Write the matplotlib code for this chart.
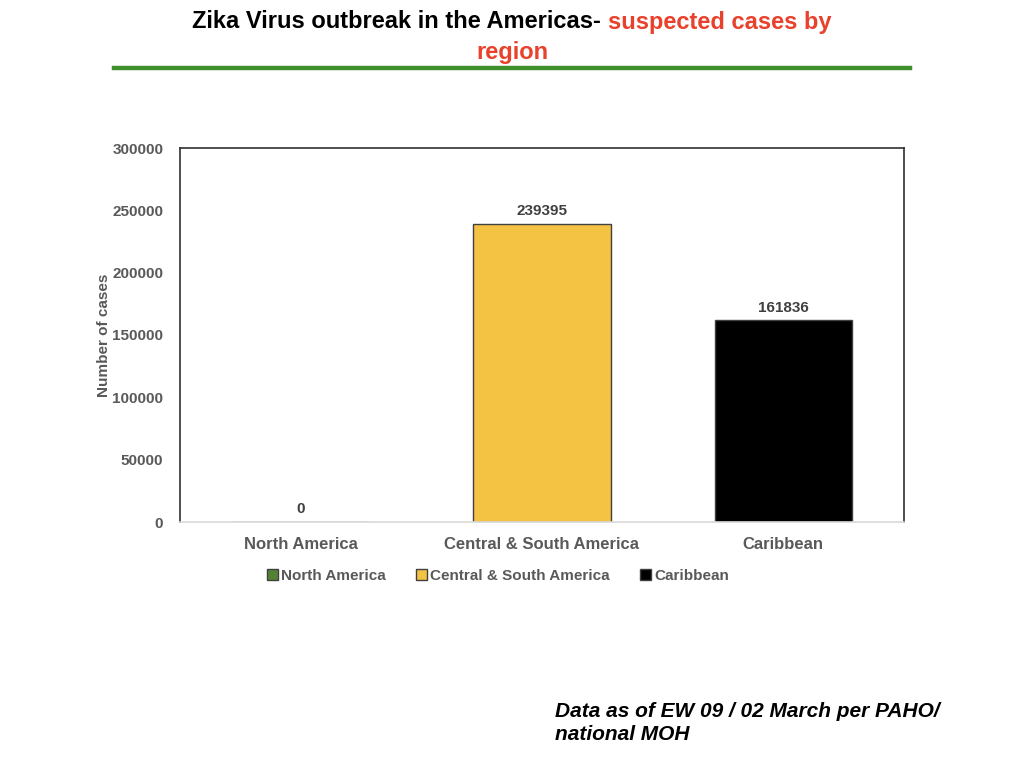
import matplotlib
matplotlib.use("Agg")
import matplotlib.pyplot as plt
from matplotlib.patches import Patch
import numpy as np

# data
regions = ["North America", "Central & South America", "Caribbean"]
cases = [0, 239395, 161836]
bar_colors = ["#548235", "#f4c343", "#000000"]
y_ticks = [0, 50000, 100000, 150000, 200000, 250000, 300000]

title_black = "Zika Virus outbreak in the Americas- "
title_red_1 = "suspected cases by"
title_red_2 = "region"
footnote = "Data as of EW 09 / 02 March per PAHO/\nnational MOH"

plt.rcParams["font.family"] = ["Liberation Sans", "DejaVu Sans"]

fig = plt.figure(figsize=(10.24, 7.68), dpi=100)
ax = fig.add_axes([180 / 1024, 1 - 522 / 768, 724 / 1024, 374 / 768])

x = np.arange(len(regions))
ax.bar(x, cases, width=0.57, color=bar_colors, edgecolor="#404040", linewidth=1.0)

ax.set_xlim(-0.5, 2.5)
ax.set_ylim(0, 300000)
ax.set_yticks(y_ticks)
ax.set_yticklabels([str(t) for t in y_ticks], fontsize=11, fontweight="bold",
                   color="#595959")
ax.set_xticks(x)
ax.set_xticklabels(regions, fontsize=12, fontweight="bold", color="#595959")
ax.tick_params(axis="both", length=0)
ax.tick_params(axis="x", pad=11)
ax.tick_params(axis="y", pad=12)
ax.set_ylabel("Number of cases", fontsize=11, fontweight="bold", color="#595959",
              labelpad=1)

for s in ["left", "top", "right"]:
    ax.spines[s].set_color("#303030")
    ax.spines[s].set_linewidth(1.2)
ax.spines["bottom"].set_color("#d9d9d9")
ax.spines["bottom"].set_linewidth(1.2)

for xi, v in zip(x, cases):
    ax.annotate(str(v), (xi, v), xytext=(0, 4), textcoords="offset points",
                ha="center", va="bottom", fontsize=11, fontweight="bold",
                color="#404040")

# legend
handles = [Patch(facecolor=c, edgecolor="#404040", linewidth=1.0) for c in bar_colors]
leg = fig.legend(handles, regions, loc="center", bbox_to_anchor=(498 / 1024, 1 - 576 / 768),
                 ncol=3, frameon=False, fontsize=11, handlelength=0.7,
                 handleheight=0.7, handletextpad=0.2, columnspacing=2.0)
for t in leg.get_texts():
    t.set_color("#595959")
    t.set_fontweight("bold")

# title in two colours
fig.canvas.draw()
r = fig.canvas.get_renderer()
ty1 = 1 - 22 / 768
tb = fig.text(0, ty1, title_black, fontsize=17, fontweight="bold", color="black",
              va="center", ha="left")
tr = fig.text(0, ty1, title_red_1, fontsize=17, fontweight="bold", color="#e8412c",
              va="center", ha="left")
wb = tb.get_window_extent(r).width
wr = tr.get_window_extent(r).width
x0 = 512 - (wb + wr) / 2
tb.set_x(x0 / 1024)
tr.set_x((x0 + wb) / 1024)
fig.text(0.5, 1 - 52 / 768, title_red_2, fontsize=17, fontweight="bold",
         color="#e8412c", va="center", ha="center")

fig.add_artist(plt.Line2D([114 / 1024, 910 / 1024], [1 - 68 / 768, 1 - 68 / 768],
                          color="#3f8f2f", linewidth=3.2))

fig.text(555 / 1024, 1 - 723 / 768, footnote, fontsize=15, fontweight="bold",
         fontstyle="italic", color="black", va="center", ha="left",
         linespacing=1.25)

fig.savefig("out.png", dpi=100)
